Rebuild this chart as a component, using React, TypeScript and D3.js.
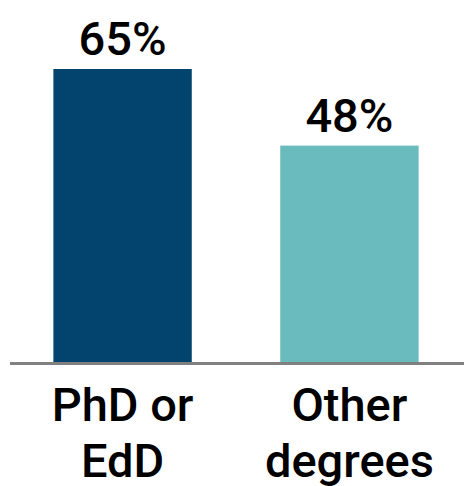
import React from "react";
import * as d3 from "d3";

const categories = ["PhD or EdD", "Other degrees"];
const categoryLines = [["PhD or", "EdD"], ["Other", "degrees"]];
const values = [65, 48];
const colors = ["#02446d", "#69bbbd"];

const W = 464;
const H = 486;

export default function App() {
  const baseline = 362;
  const x = d3.scaleBand<string>().domain(categories).range([8, 464]).paddingInner(0.39).paddingOuter(0.2);
  const y = d3.scaleLinear().domain([0, 65]).range([baseline, 69]);
  const font = "Roboto, 'Noto Sans', sans-serif";
  return (
    <svg width={W} height={H} style={{ position: "absolute", left: 0, top: 0 }}>
      <rect x={0} y={0} width={W} height={H} fill="#fff" />
      {categories.map((c, i) => {
        const bx = x(c)!;
        const bw = x.bandwidth();
        return (
          <g key={c}>
            <rect x={bx} y={y(values[i])} width={bw} height={baseline - y(values[i])} fill={colors[i]} />
            <text
              x={bx + bw / 2}
              y={y(values[i]) - 14}
              textAnchor="middle"
              fontFamily={font}
              fontWeight={500}
              fontSize={47}
              fill="#000"
            >
              {values[i]}%
            </text>
            {categoryLines[i].map((l, j) => (
              <text
                key={j}
                x={bx + bw / 2}
                y={421 + j * 56}
                textAnchor="middle"
                fontFamily={font}
                fontWeight={500}
                fontSize={47}
                fill="#000"
              >
                {l}
              </text>
            ))}
          </g>
        );
      })}
      <line x1={10} x2={464} y1={363.5} y2={363.5} stroke="#808080" strokeWidth={3} />
    </svg>
  );
}
